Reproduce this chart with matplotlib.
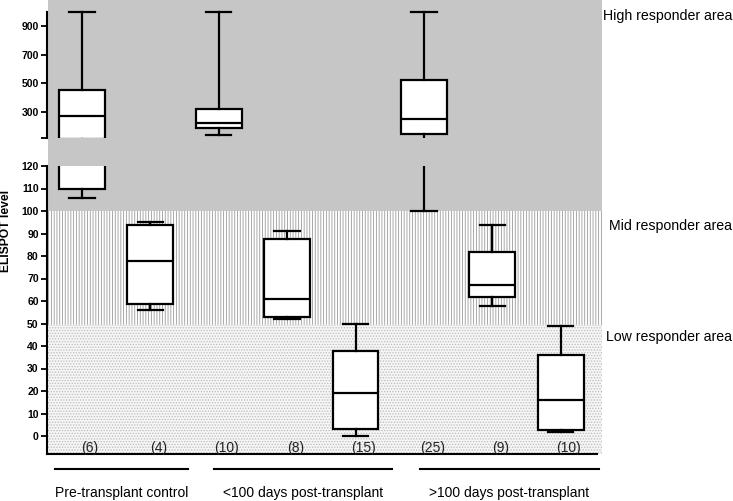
import numpy as np
import matplotlib
matplotlib.use('Agg')
import matplotlib.pyplot as plt
from matplotlib.patches import Rectangle
from matplotlib import transforms

# groups of boxes along the x axis
groups = ['Pre-transplant control', '<100 days post-transplant', '>100 days post-transplant']
counts = ['(6)', '(4)', '(10)', '(8)', '(15)', '(25)', '(9)', '(10)']

# box statistics (ELISPOT level)
whislo = [106, 56, 143, 52, 0, 100, 58, 2]
q1 = [110, 58.5, 191, 53, 3, 150, 62, 2.5]
med = [272, 78, 223, 61, 19, 253, 67, 16]
q3 = [455, 94, 322, 87.5, 38, 522, 82, 36]
whishi = [1000, 95, 1000, 91, 50, 1000, 94, 49]

# responder areas: lower edge of each band
areas = ['Low responder area', 'Mid responder area', 'High responder area']
area_lower = [0, 50, 100]

low_ticks = np.arange(0, 121, 10)
top_ticks = [120, 300, 500, 700, 900]

plt.rcParams['font.family'] = ['Liberation Sans', 'DejaVu Sans']
plt.rcParams['hatch.linewidth'] = 0.6

W, H = 733, 501
fig = plt.figure(figsize=(W / 100, H / 100), dpi=100)

def px_box(x0, y0, x1, y1):
    # pixel rectangle (from top-left) -> figure fraction
    return [x0 / W, 1 - y1 / H, (x1 - x0) / W, (y1 - y0) / H]

ax_top = fig.add_axes(px_box(47, 0, 597, 138))
ax_low = fig.add_axes(px_box(47, 166, 597, 454))

pos = np.arange(1, len(counts) + 1)
xlim = (0.49, 8.53)

stats = [dict(med=m, q1=a, q3=b, whislo=lo, whishi=hi, fliers=[])
         for m, a, b, lo, hi in zip(med, q1, q3, whislo, whishi)]

lw = 1.6
for ax in (ax_top, ax_low):
    ax.set_facecolor('none')
    ax.bxp(stats, positions=pos, widths=0.67, capwidths=0.37, patch_artist=True,
           showfliers=False, manage_ticks=False,
           boxprops=dict(facecolor='white', edgecolor='black', linewidth=lw),
           medianprops=dict(color='black', linewidth=lw),
           whiskerprops=dict(color='black', linewidth=lw),
           capprops=dict(color='black', linewidth=lw))
    ax.set_xlim(*xlim)
    ax.set_xticks([])
    ax.spines['top'].set_visible(False)
    ax.spines['right'].set_visible(False)
    ax.spines['left'].set_linewidth(1.5)
    ax.tick_params(axis='y', length=4, width=1.3, labelsize=7.5, pad=2)

ax_top.set_ylim(120, 1081)
ax_top.spines['bottom'].set_visible(False)
ax_top.spines['left'].set_bounds(120, 1000)
ax_top.set_yticks(top_ticks)
ax_top.set_yticklabels([''] + [str(t) for t in top_ticks[1:]])

ax_low.set_ylim(-8, 120)
ax_low.spines['bottom'].set_linewidth(1.5)
ax_low.set_yticks(low_ticks)
ax_low.set_yticklabels([str(t) for t in low_ticks])

for ax in (ax_top, ax_low):
    for lab in ax.get_yticklabels():
        lab.set_fontweight('bold')

# background bands (drawn behind both axes)
x_right = 8.6
band_style = [dict(facecolor='#f5f5f5', edgecolor='#bcbcbc', hatch='......'),
              dict(facecolor='white', edgecolor='#9a9a9a', hatch='||||||'),
              dict(facecolor='#c6c6c6', edgecolor='#c6c6c6', hatch=None)]
band_top = area_lower[1:] + [3000]
for lo, hi, st in zip(area_lower, band_top, band_style):
    y0 = -8 if lo == 0 else lo
    r = Rectangle((0.5, y0), x_right - 0.5, hi - y0, transform=ax_low.transData,
                  linewidth=0, zorder=-5, clip_on=False, **st)
    fig.add_artist(r)

# area labels on the right
area_y = [337, 226, 16]
for name, y in zip(areas, area_y):
    fig.text(732 / W, 1 - y / H, name, ha='right', va='center', fontsize=10.2)

# sample sizes under each box
for p, c in zip(pos, counts):
    ax_low.text(p + 0.12, -5.3, c, ha='center', va='center', fontsize=10,
                color='#222222', clip_on=False)

# group lines and labels
trans = transforms.blended_transform_factory(ax_low.transData, fig.transFigure)
group_spans = [(0.6, 2.55), (2.93, 5.53), (5.94, 8.56)]
for name, (a, b) in zip(groups, group_spans):
    ax_low.plot([a, b], [1 - 469 / H] * 2, color='black', lw=1.5,
                transform=trans, clip_on=False)
    ax_low.text((a + b) / 2, 1 - 493 / H, name, ha='center', va='center',
                fontsize=10, transform=trans)

fig.text(6 / W, 1 - 231 / H, 'ELISPOT level', rotation=90, ha='center',
         va='center', fontsize=8.7, fontweight='bold')

fig.savefig('out.png', dpi=100)
